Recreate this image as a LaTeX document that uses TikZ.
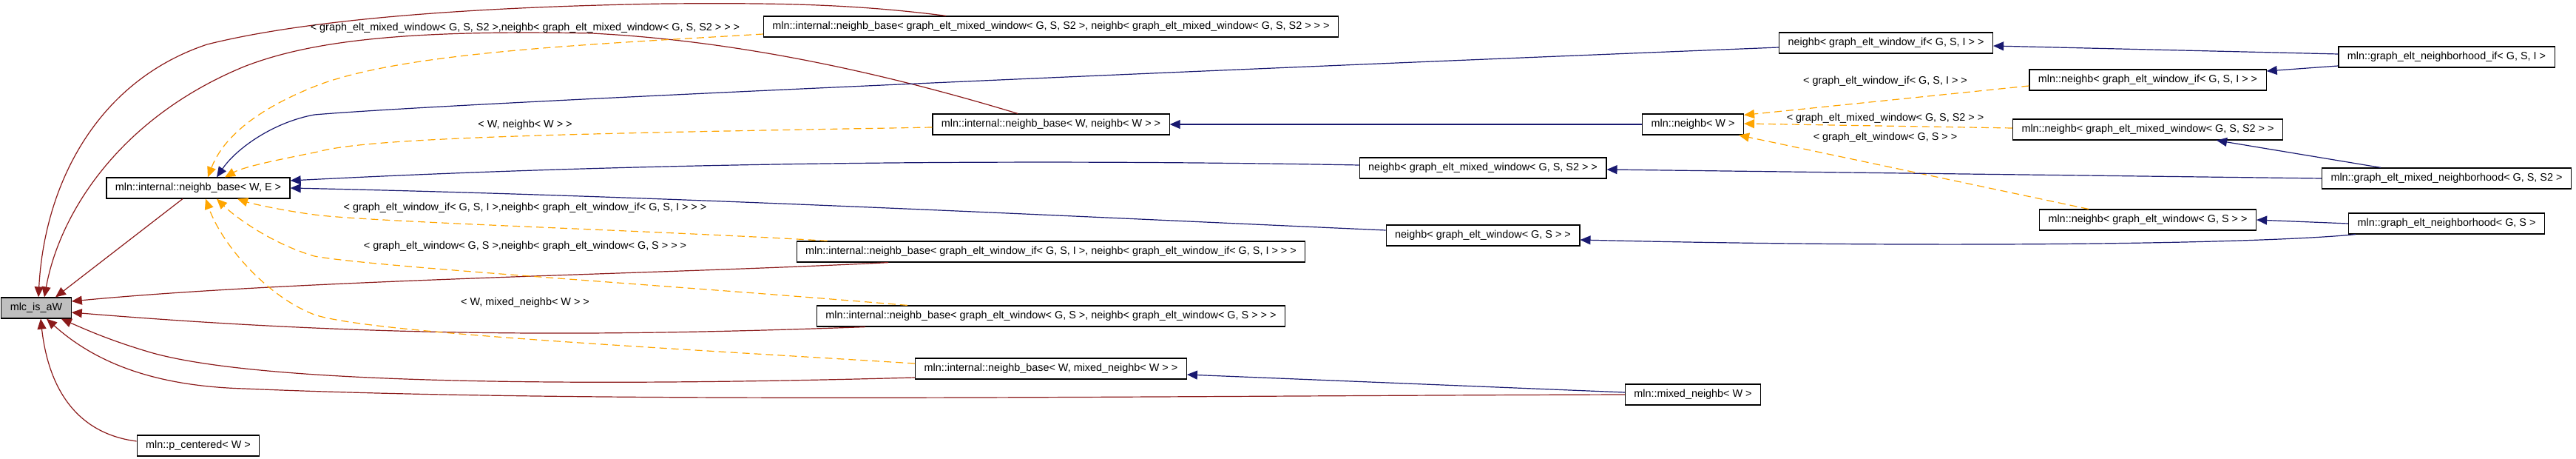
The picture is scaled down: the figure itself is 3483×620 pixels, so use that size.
\documentclass[tikz,border=0pt]{standalone}
\usepackage{fontspec}
\setmainfont{Liberation Sans}
\usetikzlibrary{arrows.meta}
\definecolor{privred}{HTML}{8B1A1A}
\definecolor{pubblue}{HTML}{191970}
\definecolor{tmplorange}{HTML}{FFA500}
\tikzset{
  cls/.style={draw=black, line width=0.6pt, fill=white, minimum height=14pt,
    inner xsep=6pt, inner ysep=0pt, font=\fontsize{7.2}{8.6}\selectfont},
  lbl/.style={inner sep=0pt, font=\fontsize{7.2}{8.6}\selectfont},
  inh/.style={line width=0.6pt, -{Triangle[length=7pt,width=6pt]}},
  priv/.style={inh, draw=privred},
  pub/.style={inh, draw=pubblue},
  tmpl/.style={inh, draw=tmplorange, dash pattern=on 5pt off 3pt}
}
\begin{document}
\begin{tikzpicture}[x=0.5pt,y=-0.5pt]
	\useasboundingbox (0,0) rectangle (3483,620);
	
	% classes
	\node[cls, fill=black!25] (aw) at (49,416) {mlc\_is\_aW};
	\node[cls] (nbWE) at (268,254) {mln::internal::neighb\_base< W, E >};
	\node[cls] (pc) at (268,602) {mln::p\_centered< W >};
	\node[cls] (nbMix) at (1421,36) {mln::internal::neighb\_base< graph\_elt\_mixed\_window< G, S, S2 >, neighb< graph\_elt\_mixed\_window< G, S, S2 > > >};
	\node[cls] (nbWN) at (1421,168) {mln::internal::neighb\_base< W, neighb< W > >};
	\node[cls] (nbIf) at (1421,340) {mln::internal::neighb\_base< graph\_elt\_window\_if< G, S, I >, neighb< graph\_elt\_window\_if< G, S, I > > >};
	\node[cls] (nbWin) at (1421,427) {mln::internal::neighb\_base< graph\_elt\_window< G, S >, neighb< graph\_elt\_window< G, S > > >};
	\node[cls] (nbMN) at (1421,498) {mln::internal::neighb\_base< W, mixed\_neighb< W > >};
	\node[cls] (ngIf) at (2550,58) {neighb< graph\_elt\_window\_if< G, S, I > >};
	\node[cls] (nw) at (2289,168) {mln::neighb< W >};
	\node[cls] (ngMix) at (2005,227) {neighb< graph\_elt\_mixed\_window< G, S, S2 > >};
	\node[cls] (ngWin) at (2005,318) {neighb< graph\_elt\_window< G, S > >};
	\node[cls] (mixN) at (2289,533) {mln::mixed\_neighb< W >};
	\node[cls] (gnIf) at (3308,77) {mln::graph\_elt\_neighborhood\_if< G, S, I >};
	\node[cls] (mnIf) at (2904,108) {mln::neighb< graph\_elt\_window\_if< G, S, I > >};
	\node[cls] (mnMix) at (2904,175) {mln::neighb< graph\_elt\_mixed\_window< G, S, S2 > >};
	\node[cls] (gmn) at (3308,241) {mln::graph\_elt\_mixed\_neighborhood< G, S, S2 >};
	\node[cls] (mnWin) at (2904,297) {mln::neighb< graph\_elt\_window< G, S > >};
	\node[cls] (gn) at (3308,302) {mln::graph\_elt\_neighborhood< G, S >};
	
	% private bases
	\draw[priv] ([xshift=-71pt]nbMix.north) .. controls (1150,5) and (1050,4) .. (900,5)
		.. controls (600,10) and (400,30) .. (280,60) .. controls (130,110) and (60,250) .. ([xshift=1.5pt]aw.north);
	\draw[priv] ([xshift=-22.5pt]nbWN.north) .. controls (1200,100) and (1000,55) .. (800,45)
		.. controls (550,40) and (420,55) .. (330,90) .. controls (160,160) and (80,290) .. ([xshift=5.5pt]aw.north);
	\draw[priv] ([xshift=-10.5pt]nbWE.south) -- ([xshift=13pt]aw.north);
	\draw[priv] ([xshift=-110pt]nbIf.south) .. controls (900,370) and (400,378) .. ([yshift=4.5pt]aw.east);
	\draw[priv] ([xshift=-125.5pt]nbWin.south) .. controls (800,455) and (500,455) .. ([yshift=-3pt]aw.east);
	\draw[priv] ([yshift=-6pt]nbMN.west) .. controls (800,522) and (350,520) .. (200,475)
		.. controls (150,460) and (120,447) .. ([xshift=-7pt]aw.south east);
	\draw[priv] (mixN.west) .. controls (1500,535) and (800,545) .. (330,525)
		.. controls (230,522) and (140,500) .. ([xshift=7pt]aw.south);
	\draw[priv] ([yshift=3pt]pc.west) .. controls (100,585) and (65,520) .. ([xshift=3pt]aw.south);
	
	% template instances
	\draw[tmpl] ([yshift=-5pt]nbMix.west) .. controls (800,60) and (550,70) .. (430,115)
		.. controls (340,150) and (300,190) .. ([xshift=6.5pt]nbWE.north);
	\draw[tmpl] ([yshift=-2pt]nbWN.west) .. controls (800,180) and (500,185) .. (430,205)
		.. controls (380,215) and (330,225) .. ([xshift=18pt]nbWE.north);
	\draw[tmpl] ([xshift=21pt]nbIf.north west) .. controls (900,312) and (500,300) .. (425,290)
		.. controls (380,284) and (340,275) .. ([xshift=26.5pt]nbWE.south);
	\draw[tmpl] ([xshift=61.5pt]nbWin.north west) .. controls (900,385) and (500,360) .. (425,346)
		.. controls (370,330) and (320,295) .. ([xshift=12.5pt]nbWE.south);
	\draw[tmpl] ([yshift=3.5pt]nbMN.west) .. controls (900,470) and (500,450) .. (425,425)
		.. controls (360,400) and (300,330) .. ([xshift=5pt]nbWE.south);
	\draw[tmpl] ([yshift=-4pt]mnIf.west) -- ([yshift=-1pt]nw.north east);
	\draw[tmpl] ([yshift=1pt]mnMix.west) -- ([yshift=0.5pt]nw.east);
	\draw[tmpl] ([xshift=33.5pt]mnWin.north west) -- ([xshift=-3.5pt]nw.south east);
	
	\node[lbl] (l1) at (710,38) {< graph\_elt\_mixed\_window< G, S, S2 >,neighb< graph\_elt\_mixed\_window< G, S, S2 > > >};
	\node[lbl] (l2) at (710,169) {< W, neighb< W > >};
	\node[lbl] (l3) at (710,281) {< graph\_elt\_window\_if< G, S, I >,neighb< graph\_elt\_window\_if< G, S, I > > >};
	\node[lbl] (l4) at (710,333) {< graph\_elt\_window< G, S >,neighb< graph\_elt\_window< G, S > > >};
	\node[lbl] (l5) at (710,409) {< W, mixed\_neighb< W > >};
	\node[lbl] (l6) at (2549,110) {< graph\_elt\_window\_if< G, S, I > >};
	\node[lbl] (l7) at (2549,160) {< graph\_elt\_mixed\_window< G, S, S2 > >};
	\node[lbl] (l8) at (2549,186) {< graph\_elt\_window< G, S > >};
	
	% public bases
	\draw[pub] ([yshift=-3pt]ngIf.west) .. controls (1500,100) and (600,140) .. (425,155)
		.. controls (370,165) and (320,200) .. ([xshift=12.5pt]nbWE.north);
	\draw[pub] ([yshift=2pt]ngMix.west) .. controls (1400,215) and (900,218) .. ([yshift=5pt]nbWE.east);
	\draw[pub] ([yshift=3.5pt]ngWin.west) .. controls (1400,290) and (900,265) .. (nbWE.east);
	\draw[pub] (nw.west) -- (nbWN.east);
	\draw[pub] ([yshift=1.5pt]mixN.west) -- ([yshift=-4pt]nbMN.east);
	\draw[pub] ([yshift=2pt]gnIf.west) -- ([yshift=-2pt]ngIf.east);
	\draw[pub] ([yshift=-6pt]gnIf.west) -- ([yshift=6pt]mnIf.east);
	\draw[pub] (gmn.west) -- ([yshift=-1pt]ngMix.east);
	\draw[pub] ([xshift=-44.5pt]gmn.north) -- ([xshift=46.5pt]mnMix.south);
	\draw[pub] (gn.west) -- (mnWin.east);
	\draw[pub] ([xshift=5pt]gn.south west) .. controls (3050,330) and (2600,335) .. ([yshift=-3pt]ngWin.east);
\end{tikzpicture}
\end{document}
